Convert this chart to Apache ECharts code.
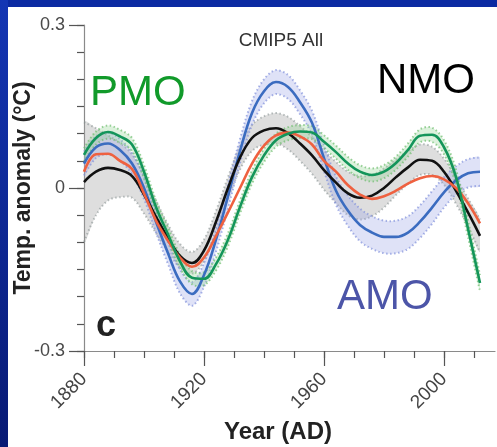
<!DOCTYPE html>
<html>
<head>
<meta charset="utf-8">
<script src="https://cdn.jsdelivr.net/npm/echarts@6/dist/echarts.min.js"></script>
<style>
  html, body { margin: 0; padding: 0; background: #fff; }
  #main { width: 497px; height: 447px; }
</style>
</head>
<body>
<div id="main"></div>
<script>
// years sampled every 4 years
var years = [1880, 1884, 1888, 1892, 1896, 1900, 1904, 1908, 1912, 1916, 1920, 1924,
  1928, 1932, 1936, 1940, 1944, 1948, 1952, 1956, 1960, 1964, 1968, 1972,
  1976, 1980, 1984, 1988, 1992, 1996, 2000, 2004, 2008, 2012];

// NMO (black)
var nmo = [0.011, 0.030, 0.037, 0.033, 0.022, -0.012, -0.053, -0.092, -0.125, -0.138, -0.115, -0.062,
  0.000, 0.056, 0.092, 0.106, 0.110, 0.101, 0.082, 0.060, 0.033, 0.010, -0.010, -0.018,
  -0.014, 0.000, 0.020, 0.038, 0.052, 0.050, 0.030, -0.005, -0.045, -0.088];
// AMO (blue)
var amo = [0.045, 0.075, 0.082, 0.070, 0.045, 0.000, -0.062, -0.120, -0.172, -0.195, -0.160, -0.095,
  -0.015, 0.068, 0.138, 0.178, 0.195, 0.186, 0.158, 0.120, 0.055, -0.005, -0.042, -0.068,
  -0.082, -0.090, -0.090, -0.082, -0.062, -0.036, -0.008, 0.014, 0.027, 0.030];
// PMO (green)
var pmo = [0.061, 0.092, 0.103, 0.095, 0.080, 0.030, -0.035, -0.085, -0.135, -0.165, -0.167, -0.140,
  -0.095, -0.035, 0.020, 0.060, 0.088, 0.100, 0.104, 0.102, 0.085, 0.066, 0.045, 0.030,
  0.024, 0.030, 0.046, 0.070, 0.096, 0.098, 0.075, 0.020, -0.075, -0.175];
// orange curve
var other = [0.030, 0.062, 0.063, 0.050, 0.035, -0.010, -0.060, -0.097, -0.128, -0.145, -0.128, -0.088,
  -0.045, 0.000, 0.045, 0.078, 0.097, 0.102, 0.095, 0.080, 0.050, 0.030, 0.005, -0.012,
  -0.020, -0.015, -0.005, 0.008, 0.018, 0.022, 0.016, 0.000, -0.028, -0.065];

// half widths of the shaded ranges
var nmoBand = [0.110, 0.080, 0.060, 0.050, 0.040, 0.035, 0.030, 0.025, 0.022, 0.020, 0.020, 0.020,
  0.020, 0.022, 0.024, 0.026, 0.028, 0.030, 0.032, 0.034, 0.036, 0.038, 0.040, 0.040,
  0.038, 0.036, 0.033, 0.030, 0.028, 0.026, 0.024, 0.024, 0.026, 0.030];
var amoBand = [0.022, 0.020, 0.020, 0.020, 0.020, 0.020, 0.020, 0.020, 0.022, 0.022, 0.022, 0.022,
  0.022, 0.022, 0.022, 0.022, 0.022, 0.022, 0.022, 0.022, 0.024, 0.026, 0.028, 0.030,
  0.030, 0.030, 0.030, 0.030, 0.030, 0.030, 0.028, 0.026, 0.026, 0.026];
var pmoBand = [0.012, 0.012, 0.012, 0.012, 0.012, 0.012, 0.012, 0.012, 0.012, 0.012, 0.012, 0.012,
  0.012, 0.012, 0.012, 0.012, 0.012, 0.012, 0.012, 0.012, 0.012, 0.012, 0.012, 0.012,
  0.012, 0.012, 0.012, 0.012, 0.012, 0.013, 0.013, 0.014, 0.015, 0.015];

var majorYears = [1880, 1920, 1960, 2000];
var minorYears = [1880, 1890, 1900, 1910, 1920, 1930, 1940, 1950, 1960, 1970, 1980, 1990, 2000, 2010];

var chart = echarts.init(document.getElementById('main'), null, { renderer: 'canvas' });

function pairs(vals) {
  return years.map(function (y, i) { return [y, vals[i]]; });
}

function bbox(pts) {
  var x0 = Infinity, y0 = Infinity, x1 = -Infinity, y1 = -Infinity;
  pts.forEach(function (p) {
    x0 = Math.min(x0, p[0]); y0 = Math.min(y0, p[1]);
    x1 = Math.max(x1, p[0]); y1 = Math.max(y1, p[1]);
  });
  return [[x0, y0], [x1, y1]];
}

// shaded range: filled polygon + dotted edges, drawn once by a custom series
function band(center, hw, fill, edge) {
  var lo = center.map(function (v, i) { return v - hw[i]; });
  var hi = center.map(function (v, i) { return v + hw[i]; });
  return {
    type: 'custom',
    coordinateSystem: 'cartesian2d',
    data: [[years[0], center[0]]],
    encode: { x: 0, y: 1 },
    silent: true,
    z: 1,
    renderItem: function (params, api) {
      var top = [], bot = [];
      for (var i = 0; i < years.length; i++) {
        top.push(api.coord([years[i], hi[i]]));
        bot.push(api.coord([years[i], lo[i]]));
      }
      var ring = top.concat(bot.slice().reverse());
      return {
        type: 'group',
        children: [
          {
            type: 'polygon',
            shape: { points: ring, smooth: 0.35, smoothConstraint: bbox(ring) },
            style: { fill: fill }
          },
          {
            type: 'polyline',
            shape: { points: top, smooth: 0.35, smoothConstraint: bbox(top) },
            style: { fill: null, stroke: edge, lineWidth: 2, lineDash: [1.5, 2.5] }
          },
          {
            type: 'polyline',
            shape: { points: bot, smooth: 0.35, smoothConstraint: bbox(bot) },
            style: { fill: null, stroke: edge, lineWidth: 2, lineDash: [1.5, 2.5] }
          }
        ]
      };
    }
  };
}

function mainLine(name, vals, color) {
  return {
    type: 'line', name: name, data: pairs(vals), smooth: 0.4, symbol: 'none',
    lineStyle: { color: color, width: 2.6 }, z: 5
  };
}

var series = [
  band(nmo, nmoBand, 'rgba(160,160,160,0.35)', 'rgba(130,140,140,0.55)'),
  band(amo, amoBand, 'rgba(150,160,230,0.30)', 'rgba(130,145,220,0.7)'),
  band(pmo, pmoBand, 'rgba(140,210,140,0.30)', 'rgba(110,190,110,0.7)'),
  mainLine('AMO', amo, '#3b6cc0'),
  mainLine('NMO', nmo, '#111111'),
  mainLine('Other', other, '#ef6140'),
  mainLine('PMO', pmo, '#14955a')
];

var font = 'Liberation Sans, Arial, sans-serif';

var option = {
  backgroundColor: '#ffffff',
  animation: false,
  grid: { left: 84, top: 25, width: 411, height: 326 },
  xAxis: [
    {
      type: 'value', min: 1880, max: 2017, position: 'bottom',
      axisLine: { show: true, onZero: false, lineStyle: { color: '#8a8a8a', width: 1.2 } },
      axisTick: { show: true, customValues: minorYears, length: 7, lineStyle: { color: '#555', width: 1.2 } },
      axisLabel: {
        customValues: majorYears, rotate: 45, margin: 25,
        fontSize: 19, color: '#444', fontFamily: font,
        formatter: function (v) { return String(v); }
      },
      splitLine: { show: false }
    },
    {
      type: 'value', min: 1880, max: 2017, position: 'bottom',
      axisLine: { show: false, onZero: false },
      axisTick: { show: true, customValues: majorYears, length: 15, lineStyle: { color: '#555', width: 1.2 } },
      axisLabel: { show: false },
      splitLine: { show: false }
    }
  ],
  yAxis: [
    {
      type: 'value', min: -0.3, max: 0.3, interval: 0.05, position: 'left',
      axisLine: { show: true, onZero: false, lineStyle: { color: '#8a8a8a', width: 1.2 } },
      axisTick: { show: true, length: 7, lineStyle: { color: '#555', width: 1.2 } },
      axisLabel: {
        margin: 19, fontSize: 18, color: '#4a4a4a', fontFamily: font,
        formatter: function (v) {
          var r = Math.round(v * 100);
          if (r === 30) return '0.3';
          if (r === 0) return '0';
          if (r === -30) return '-0.3';
          return '';
        }
      },
      splitLine: { show: false }
    },
    {
      type: 'value', min: -0.3, max: 0.3, interval: 0.3, position: 'left',
      axisLine: { show: false, onZero: false },
      axisTick: { show: true, length: 15, lineStyle: { color: '#555', width: 1.2 } },
      axisLabel: { show: false },
      splitLine: { show: false }
    }
  ],
  series: series,
  graphic: [
    { type: 'rect', shape: { x: 0, y: 0, width: 497, height: 7 }, style: { fill: '#0b2aa2' }, z: 100 },
    {
      type: 'rect', shape: { x: 0, y: 0, width: 8, height: 447 }, z: 100,
      style: {
        fill: new echarts.graphic.LinearGradient(0, 0, 0, 1, [
          { offset: 0, color: '#1436b4' },
          { offset: 1, color: '#081a74' }
        ])
      }
    },
    {
      type: 'text', x: 281, y: 41, z: 50,
      style: { text: 'CMIP5 All', fill: '#333', fontSize: 19, fontFamily: font, textAlign: 'center', textVerticalAlign: 'middle' }
    },
    {
      type: 'text', x: 90, y: 93, z: 50,
      style: { text: 'PMO', fill: '#119a2a', fontSize: 42, fontFamily: font, textAlign: 'left', textVerticalAlign: 'middle' }
    },
    {
      type: 'text', x: 377, y: 81, z: 50,
      style: { text: 'NMO', fill: '#000', fontSize: 42, fontFamily: font, textAlign: 'left', textVerticalAlign: 'middle' }
    },
    {
      type: 'text', x: 337, y: 297, z: 50,
      style: { text: 'AMO', fill: '#4c55a8', fontSize: 42, fontFamily: font, textAlign: 'left', textVerticalAlign: 'middle' }
    },
    {
      type: 'text', x: 96, y: 326, z: 50,
      style: { text: 'c', fill: '#222', fontSize: 36, fontWeight: 'bold', fontFamily: font, textAlign: 'left', textVerticalAlign: 'middle' }
    },
    {
      type: 'text', x: 278, y: 432, z: 50,
      style: { text: 'Year (AD)', fill: '#222', fontSize: 24, fontWeight: 'bold', fontFamily: font, textAlign: 'center', textVerticalAlign: 'middle' }
    },
    {
      type: 'text', x: 24, y: 188, rotation: Math.PI / 2, z: 50,
      style: { text: 'Temp. anomaly (°C)', fill: '#222', fontSize: 23, fontWeight: 'bold', fontFamily: font, textAlign: 'center', textVerticalAlign: 'middle' }
    }
  ]
};

chart.setOption(option);
</script>
</body>
</html>
